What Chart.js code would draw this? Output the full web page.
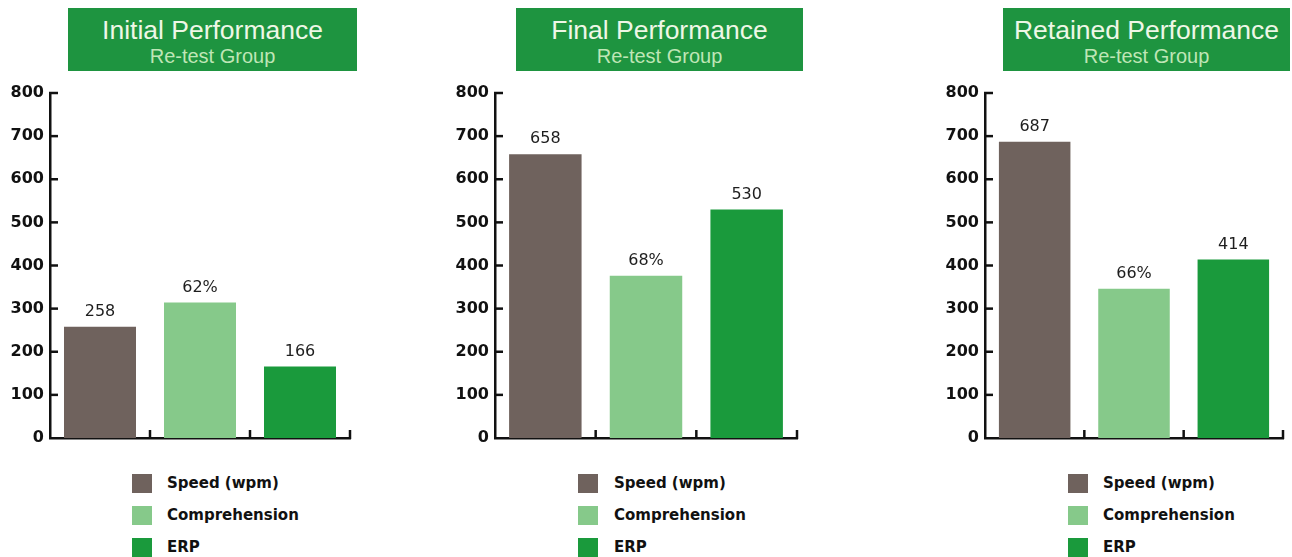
<!DOCTYPE html>
<html>
<head>
<meta charset="utf-8">
<script src="https://cdn.jsdelivr.net/npm/chart.js@4"></script>
<style>
  html,body{margin:0;padding:0;background:#fff;}
  #wrap{position:relative;width:1292px;height:557px;background:#fff;overflow:hidden;}
  .tbox{position:absolute;background:#1e9440;text-align:center;}
  .t1{font-family:"Liberation Sans",Arial,sans-serif;font-size:26.5px;color:#eef7e6;position:absolute;left:0;right:0;top:8px;line-height:28px;}
  .t2{font-family:"Liberation Sans",Arial,sans-serif;font-size:20px;color:#bfe6b6;position:absolute;left:0;right:0;top:37px;line-height:22px;}
  .cv{position:absolute;}
  .leg{position:absolute;font-family:"DejaVu Sans",sans-serif;font-size:15px;font-weight:bold;color:#111;}
  .li{position:absolute;left:0;height:20px;white-space:nowrap;}
  .sw{position:absolute;left:0;top:0;width:20px;height:19px;}
  .lt{position:absolute;top:0;line-height:19px;}
</style>
</head>
<body>
<div id="wrap"></div>
<script>
// ---- data ----
const categories = ["Speed (wpm)", "Comprehension", "ERP"];
const panelTitles = ["Initial Performance", "Final Performance", "Retained Performance"];
const panelSubtitle = "Re-test Group";
const speedValues = [258, 658, 687];
const comprehensionHeights = [314, 376, 346];
const comprehensionLabels = ["62%", "68%", "66%"];
const erpValues = [166, 530, 414];
const yTickValues = [0, 100, 200, 300, 400, 500, 600, 700, 800];

const barColors = ["#6f625d", "#86c98a", "#1a9a3c"];

// ---- layout of the three panels ----
const panels = [
  {box:[68, 8, 289, 63], canvasLeft:0,   canvasWidth:380, axisW:50, plotW:300, legSq:132, legText:167},
  {box:[516, 8, 287, 63], canvasLeft:440, canvasWidth:390, axisW:55, plotW:302, legSq:578, legText:614},
  {box:[1003, 8, 287, 63], canvasLeft:930, canvasWidth:362, axisW:55, plotW:298, legSq:1068, legText:1103}
];
const canvasTop = 60, canvasHeight = 400;

const wrap = document.getElementById('wrap');

const innerTicks = {
  id: 'innerTicks',
  afterDatasetsDraw(chart) {
    const ctx = chart.ctx, y = chart.scales.y, x = chart.scales.x;
    const ax = chart.chartArea.left;
    ctx.save();
    ctx.strokeStyle = '#111';
    ctx.lineWidth = 2.5;
    yTickValues.forEach(v => {
      if (v === 0) return;
      const py = y.getPixelForValue(v);
      ctx.beginPath(); ctx.moveTo(ax - 1, py); ctx.lineTo(ax + 8, py); ctx.stroke();
    });
    const bottom = chart.chartArea.bottom;
    for (let i = 0; i < categories.length; i++) {
      const px = x.getPixelForValue(i + 0.5);
      ctx.beginPath(); ctx.moveTo(px, bottom + 1); ctx.lineTo(px, bottom - 8); ctx.stroke();
    }
    ctx.restore();
  }
};

const valueLabels = {
  id: 'valueLabels',
  afterDatasetsDraw(chart) {
    const ctx = chart.ctx;
    const meta = chart.getDatasetMeta(0);
    const labels = chart.options.plugins.valueLabels.texts;
    ctx.save();
    ctx.font = '16px "DejaVu Sans", sans-serif';
    ctx.fillStyle = '#1e1e1e';
    ctx.textAlign = 'center';
    ctx.textBaseline = 'bottom';
    meta.data.forEach((bar, i) => {
      ctx.fillText(labels[i], bar.x, bar.y - 7);
    });
    ctx.restore();
  }
};

panels.forEach((p, k) => {
  // title box
  const tb = document.createElement('div');
  tb.className = 'tbox';
  tb.style.left = p.box[0] + 'px'; tb.style.top = p.box[1] + 'px';
  tb.style.width = p.box[2] + 'px'; tb.style.height = p.box[3] + 'px';
  tb.innerHTML = '<div class="t1"></div><div class="t2"></div>';
  tb.children[0].textContent = panelTitles[k];
  tb.children[1].textContent = panelSubtitle;
  wrap.appendChild(tb);

  // canvas
  const holder = document.createElement('div');
  holder.className = 'cv';
  holder.style.left = p.canvasLeft + 'px'; holder.style.top = canvasTop + 'px';
  holder.style.width = p.canvasWidth + 'px'; holder.style.height = canvasHeight + 'px';
  const cv = document.createElement('canvas');
  holder.appendChild(cv);
  wrap.appendChild(holder);

  const values = [speedValues[k], comprehensionHeights[k], erpValues[k]];
  const texts = [String(speedValues[k]), comprehensionLabels[k], String(erpValues[k])];

  new Chart(cv, {
    type: 'bar',
    data: {
      labels: categories,
      datasets: [{
        data: values,
        backgroundColor: barColors,
        borderWidth: 0,
        barPercentage: 0.72,
        categoryPercentage: 1.0
      }]
    },
    options: {
      responsive: true,
      maintainAspectRatio: false,
      animation: false,
      events: [],
      layout: { padding: { top: 33, right: p.canvasWidth - p.axisW - p.plotW, bottom: 0, left: 0 } },
      plugins: {
        legend: { display: false },
        tooltip: { enabled: false },
        valueLabels: { texts: texts }
      },
      scales: {
        x: {
          offset: true,
          grid: { display: false, drawTicks: false },
          border: { display: true, color: '#111', width: 2.5 },
          ticks: { display: false },
          afterFit(s) { s.height = 22; }
        },
        y: {
          min: 0, max: 800,
          afterBuildTicks(s) { s.ticks = yTickValues.map(v => ({ value: v })); },
          grid: { display: false, drawTicks: false },
          border: { display: true, color: '#111', width: 2.5 },
          ticks: {
            padding: 6,
            color: '#111',
            font: { family: '"DejaVu Sans", sans-serif', size: 16, weight: 'bold' }
          },
          afterFit(s) { s.width = p.axisW; }
        }
      }
    },
    plugins: [innerTicks, valueLabels]
  });

  // legend
  const leg = document.createElement('div');
  leg.className = 'leg';
  leg.style.left = p.legSq + 'px'; leg.style.top = '474px';
  categories.forEach((c, i) => {
    const li = document.createElement('div');
    li.className = 'li';
    li.style.top = (i * 32) + 'px';
    li.innerHTML = '<div class="sw"></div><div class="lt"></div>';
    li.children[0].style.background = barColors[i];
    li.children[1].style.left = (p.legText - p.legSq) + 'px';
    li.children[1].textContent = c;
    leg.appendChild(li);
  });
  wrap.appendChild(leg);
});
</script>
</body>
</html>
